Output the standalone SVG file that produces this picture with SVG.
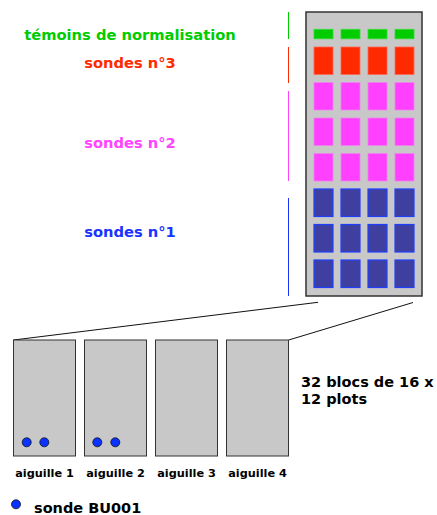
<svg xmlns="http://www.w3.org/2000/svg" width="437" height="515" viewBox="0 0 437 515">
<style>
text{font-family:"DejaVu Sans",Verdana,sans-serif;font-weight:bold}
.lbl{font-size:14.7px;text-anchor:middle}
.blk{fill:#c8c8c8;stroke:#333;stroke-width:1}
.g{fill:#00cc00;stroke:#33dd33;stroke-width:0.8}
.r{fill:#ff2a00;stroke:#ff6655;stroke-width:0.8}
.m{fill:#ff40ff;stroke:#f080f0;stroke-width:0.8}
.b{fill:#3f3fa0;stroke:#1f40ff;stroke-width:1.2}
.dot{fill:#0a33ff;stroke:#111;stroke-width:0.8}
.conn{stroke:#111;stroke-width:1;fill:none}
.al{font-size:11.3px;text-anchor:middle;fill:#000}
</style>
<defs>
<g id="row4g"><rect class="g" x="314" y="0" width="19" height="9.5"/><rect class="g" x="341" y="0" width="19" height="9.5"/><rect class="g" x="368" y="0" width="19" height="9.5"/><rect class="g" x="395" y="0" width="19" height="9.5"/></g>
</defs>
<g id="labels">
<text class="lbl" x="130" y="40" fill="#00cc00">témoins de normalisation</text>
<text class="lbl" x="130" y="67.7" fill="#ff2a00">sondes n°3</text>
<text class="lbl" x="130" y="148.3" fill="#ff44ff">sondes n°2</text>
<text class="lbl" x="130" y="237.3" fill="#1a33ff">sondes n°1</text>
</g>
<g id="brackets">
<line x1="288.5" y1="12" x2="288.5" y2="39" stroke="#00cc00" stroke-width="1"/>
<line x1="288.5" y1="47" x2="288.5" y2="83" stroke="#ff2a00" stroke-width="1"/>
<line x1="288.5" y1="91" x2="288.5" y2="181" stroke="#ff44ff" stroke-width="1"/>
<line x1="288.5" y1="198" x2="288.5" y2="296" stroke="#1a33ff" stroke-width="1"/>
</g>
<g id="slide">
<rect x="306" y="12" width="116" height="284" fill="#c8c8c8" stroke="#333" stroke-width="1.5"/>
<use href="#row4g" y="29.3"/>
<g id="row-r"><rect class="r" x="314" y="47" width="19" height="27.5"/><rect class="r" x="341" y="47" width="19" height="27.5"/><rect class="r" x="368" y="47" width="19" height="27.5"/><rect class="r" x="395" y="47" width="19" height="27.5"/></g>
<g><rect class="m" x="314" y="82.5" width="19" height="27.5"/><rect class="m" x="341" y="82.5" width="19" height="27.5"/><rect class="m" x="368" y="82.5" width="19" height="27.5"/><rect class="m" x="395" y="82.5" width="19" height="27.5"/></g>
<g><rect class="m" x="314" y="118" width="19" height="27.5"/><rect class="m" x="341" y="118" width="19" height="27.5"/><rect class="m" x="368" y="118" width="19" height="27.5"/><rect class="m" x="395" y="118" width="19" height="27.5"/></g>
<g><rect class="m" x="314" y="153.5" width="19" height="27.5"/><rect class="m" x="341" y="153.5" width="19" height="27.5"/><rect class="m" x="368" y="153.5" width="19" height="27.5"/><rect class="m" x="395" y="153.5" width="19" height="27.5"/></g>
<g><rect class="b" x="314" y="189" width="19" height="27.5"/><rect class="b" x="341" y="189" width="19" height="27.5"/><rect class="b" x="368" y="189" width="19" height="27.5"/><rect class="b" x="395" y="189" width="19" height="27.5"/></g>
<g><rect class="b" x="314" y="224.5" width="19" height="27.5"/><rect class="b" x="341" y="224.5" width="19" height="27.5"/><rect class="b" x="368" y="224.5" width="19" height="27.5"/><rect class="b" x="395" y="224.5" width="19" height="27.5"/></g>
<g><rect class="b" x="314" y="260" width="19" height="27.5"/><rect class="b" x="341" y="260" width="19" height="27.5"/><rect class="b" x="368" y="260" width="19" height="27.5"/><rect class="b" x="395" y="260" width="19" height="27.5"/></g>
</g>
<g id="connectors">
<line class="conn" x1="13.5" y1="340" x2="318" y2="302.3"/>
<line class="conn" x1="288.7" y1="340" x2="413" y2="302.5"/>
</g>
<g id="aiguille1">
<rect class="blk" x="13.5" y="340" width="62" height="116"/>
<circle class="dot" cx="26.7" cy="442.3" r="4.5"/>
<circle class="dot" cx="44.3" cy="442.3" r="4.5"/>
<text class="al" x="44.5" y="476.7">aiguille 1</text>
</g>
<g id="aiguille2">
<rect class="blk" x="84.5" y="340" width="62" height="116"/>
<circle class="dot" cx="97.3" cy="442.3" r="4.5"/>
<circle class="dot" cx="115.3" cy="442.3" r="4.5"/>
<text class="al" x="115.5" y="476.7">aiguille 2</text>
</g>
<g id="aiguille3">
<rect class="blk" x="155.5" y="340" width="62" height="116"/>
<text class="al" x="186.5" y="476.7">aiguille 3</text>
</g>
<g id="aiguille4">
<rect class="blk" x="226.5" y="340" width="62" height="116"/>
<text class="al" x="257.5" y="476.7">aiguille 4</text>
</g>
<g id="note">
<text x="301" y="386.7" font-size="14.5" fill="#000">32 blocs de 16 x</text>
<text x="301" y="404.3" font-size="14.5" fill="#000">12 plots</text>
</g>
<g id="legend">
<circle class="dot" cx="16" cy="504.3" r="4.5"/>
<text x="34" y="513.3" font-size="14.5" fill="#000">sonde BU001</text>
</g>
</svg>
